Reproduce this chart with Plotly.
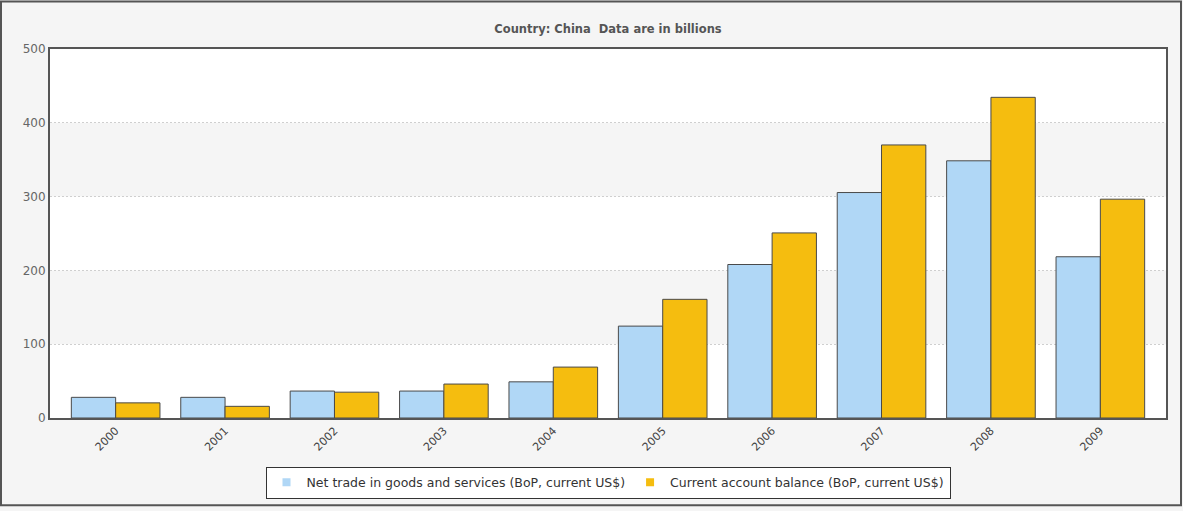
import plotly.graph_objects as go

# China, data in billions of current US$
years = ["2000", "2001", "2002", "2003", "2004", "2005", "2006", "2007", "2008", "2009"]
net_trade = [28.0, 28.0, 36.5, 36.5, 49.0, 124.5, 208.0, 305.5, 348.5, 218.5]
current_account = [20.5, 15.8, 35.0, 46.0, 69.0, 160.8, 250.8, 370.0, 434.5, 296.5]

series_names = [
    "Net trade in goods and services (BoP, current US$)",
    "Current account balance (BoP, current US$)",
]
series_colors = ["#b0d7f6", "#f5bd0f"]
y_ticks = [0, 100, 200, 300, 400, 500]

FONT = "DejaVu Sans"
W, H = 1183, 511
ML, MR, MT, MB = 50, 17, 49, 90
PW, PH = W - ML - MR, H - MT - MB

fig = go.Figure()
for name, values, color in zip(series_names, [net_trade, current_account], series_colors):
    fig.add_trace(go.Bar(
        x=years, y=values, name=name, showlegend=False,
        marker=dict(color=color, line=dict(color="#4a4a4a", width=1)),
    ))

# legend entries: small flat squares
for name, color in zip(series_names, series_colors):
    fig.add_trace(go.Scatter(
        x=[None], y=[None], mode="markers", name=name,
        marker=dict(symbol="square", size=8, color=color, line=dict(width=0)),
    ))

# alternating light bands behind the grid
shapes = []
for i in range(len(y_ticks) - 1):
    if i % 2 == 1:
        shapes.append(dict(
            type="rect", xref="paper", yref="y", x0=0, x1=1,
            y0=y_ticks[i], y1=y_ticks[i + 1],
            fillcolor="#f5f5f5", line=dict(width=0), layer="below",
        ))

# outer frame round the whole chart
shapes.append(dict(
    type="rect", xref="paper", yref="paper",
    x0=(1 - ML) / PW, x1=(W - 2 - ML) / PW,
    y0=-(H - 2 - MT - PH) / PH, y1=(PH + MT - 1) / PH,
    line=dict(color="#555555", width=2), fillcolor="rgba(0,0,0,0)",
    layer="above",
))

fig.update_layout(
    width=W, height=H,
    margin=dict(l=ML, r=MR, t=MT, b=MB),
    paper_bgcolor="#f5f5f5",
    plot_bgcolor="#ffffff",
    barmode="group",
    bargap=0.19,
    bargroupgap=0,
    font=dict(family=FONT, size=11, color="#555555"),
    title=dict(
        text="<b>Country: China  Data are in billions</b>",
        x=0.5, xref="paper", xanchor="center",
        y=1 - 29 / H, yref="container", yanchor="middle",
        font=dict(family=FONT, size=11.5, color="#555555"),
    ),
    xaxis=dict(
        type="category",
        range=[-0.6, 9.6],
        tickangle=-45,
        tickfont=dict(family=FONT, size=11, color="#444444"),
        showline=True, linecolor="#555555", linewidth=2, mirror=True,
        showgrid=False, ticks="", ticklen=0,
    ),
    yaxis=dict(
        range=[0, 500],
        tickvals=y_ticks,
        tickfont=dict(family=FONT, size=12, color="#666666"),
        showline=True, linecolor="#555555", linewidth=2, mirror=True,
        showgrid=True, gridcolor="#cfcfcf", griddash="2px,2px", gridwidth=1,
        zeroline=False, ticks="", ticklen=0,
    ),
    legend=dict(
        orientation="h",
        x=0.5, xanchor="center",
        y=-(470 - MT - PH) / PH, yanchor="top",
        bgcolor="#ffffff",
        bordercolor="#333333", borderwidth=1,
        font=dict(family=FONT, size=12.5, color="#333333"),
        itemwidth=30,
        tracegroupgap=0,
    ),
    shapes=shapes,
)

fig.write_html("out.html")
